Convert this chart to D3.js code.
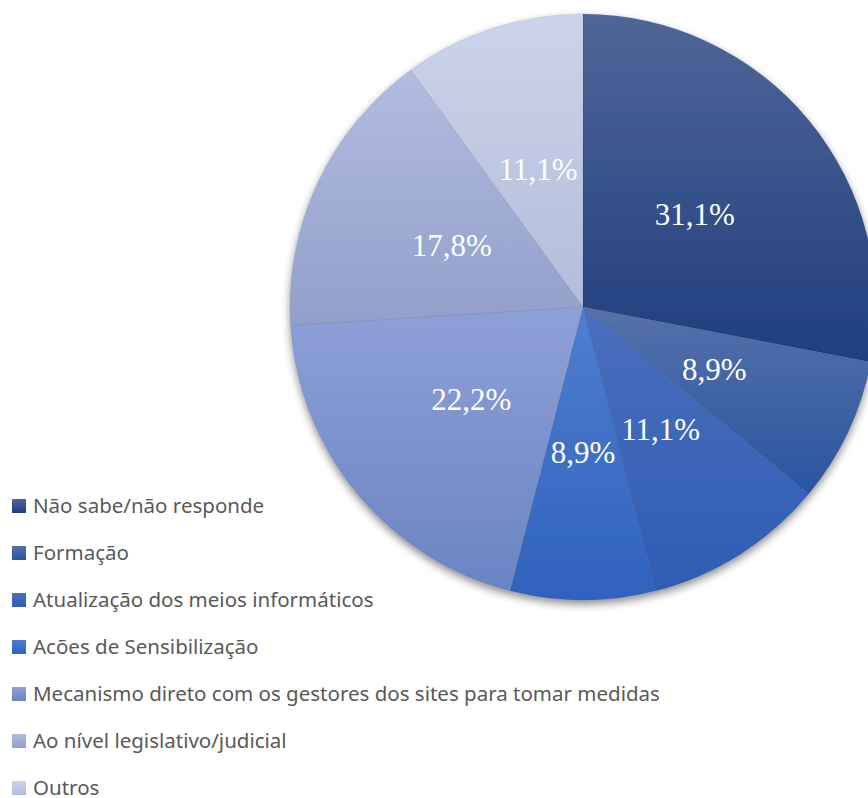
<!DOCTYPE html>
<html>
<head>
<meta charset="utf-8">
<script src="https://cdn.jsdelivr.net/npm/d3@7"></script>
<style>
  html, body { margin: 0; padding: 0; background: #fff; }
  svg { display: block; }
</style>
</head>
<body>
<svg id="chart" width="868" height="798"></svg>
<script>
// Data
const categories = [
  "Não sabe/não responde",
  "Formação",
  "Atualização dos meios informáticos",
  "Acões de Sensibilização",
  "Mecanismo direto com os gestores dos sites para tomar medidas",
  "Ao nível legislativo/judicial",
  "Outros"
];
const counts = [14, 4, 5, 4, 10, 8, 5];
const labels = ["31,1%", "8,9%", "11,1%", "8,9%", "22,2%", "17,8%", "11,1%"];
const topColors = ["#4f6698", "#5571a9", "#4b6fbd", "#4f7ecf", "#8ea0d8", "#b1bcdf", "#ccd3eb"];
const bottomColors = ["#1f3e7e", "#2a54a0", "#2f5cb4", "#2f62be", "#6a84c3", "#919fca", "#b3bdda"];

// Layout
const svg = d3.select("#chart");
const cx = 583, cy = 307, radius = 293;

const defs = svg.append("defs");

const shadow = defs.append("filter")
    .attr("id", "shadow")
    .attr("x", "-10%").attr("y", "-10%")
    .attr("width", "120%").attr("height", "120%");
shadow.append("feDropShadow")
    .attr("dx", 0).attr("dy", 4)
    .attr("stdDeviation", 4)
    .attr("flood-color", "#000")
    .attr("flood-opacity", 0.45);

categories.forEach(function (c, i) {
  const g = defs.append("linearGradient")
      .attr("id", "grad" + i)
      .attr("x1", 0).attr("y1", 0)
      .attr("x2", 0).attr("y2", 1);
  g.append("stop").attr("offset", "0%").attr("stop-color", topColors[i]);
  g.append("stop").attr("offset", "100%").attr("stop-color", bottomColors[i]);
});

const pie = d3.pie().sort(null).value(d => d);
const arcs = pie(counts);

const arc = d3.arc().innerRadius(0).outerRadius(radius);
const labelArc = d3.arc().innerRadius(145).outerRadius(145);

const pieG = svg.append("g")
    .attr("transform", "translate(" + cx + "," + cy + ")");

pieG.append("g")
    .attr("filter", "url(#shadow)")
  .selectAll("path")
  .data(arcs)
  .join("path")
    .attr("d", arc)
    .attr("fill", (d, i) => "url(#grad" + i + ")")
    .attr("stroke", "rgba(0,0,0,0.08)")
    .attr("stroke-width", 0.8);

pieG.selectAll("text.lbl")
  .data(arcs)
  .join("text")
    .attr("class", "lbl")
    .attr("transform", d => "translate(" + labelArc.centroid(d) + ")")
    .attr("dy", "0.35em")
    .attr("text-anchor", "middle")
    .style("font-family", "'Liberation Serif', 'Times New Roman', serif")
    .style("font-size", "31px")
    .style("fill", "#fff")
    .text((d, i) => labels[i]);

// Legend
const legend = svg.append("g")
    .attr("transform", "translate(12,506)");

const rows = legend.selectAll("g")
  .data(categories)
  .join("g")
    .attr("transform", (d, i) => "translate(0," + (i * 47) + ")");

rows.append("rect")
    .attr("x", 0).attr("y", -7)
    .attr("width", 14).attr("height", 14)
    .attr("fill", (d, i) => "url(#grad" + i + ")");

rows.append("text")
    .attr("x", 21)
    .attr("dy", "0.35em")
    .style("font-family", "'Noto Sans', 'Open Sans', sans-serif")
    .style("font-size", "20.5px")
    .style("fill", "#595959")
    .text(d => d);
</script>
</body>
</html>
